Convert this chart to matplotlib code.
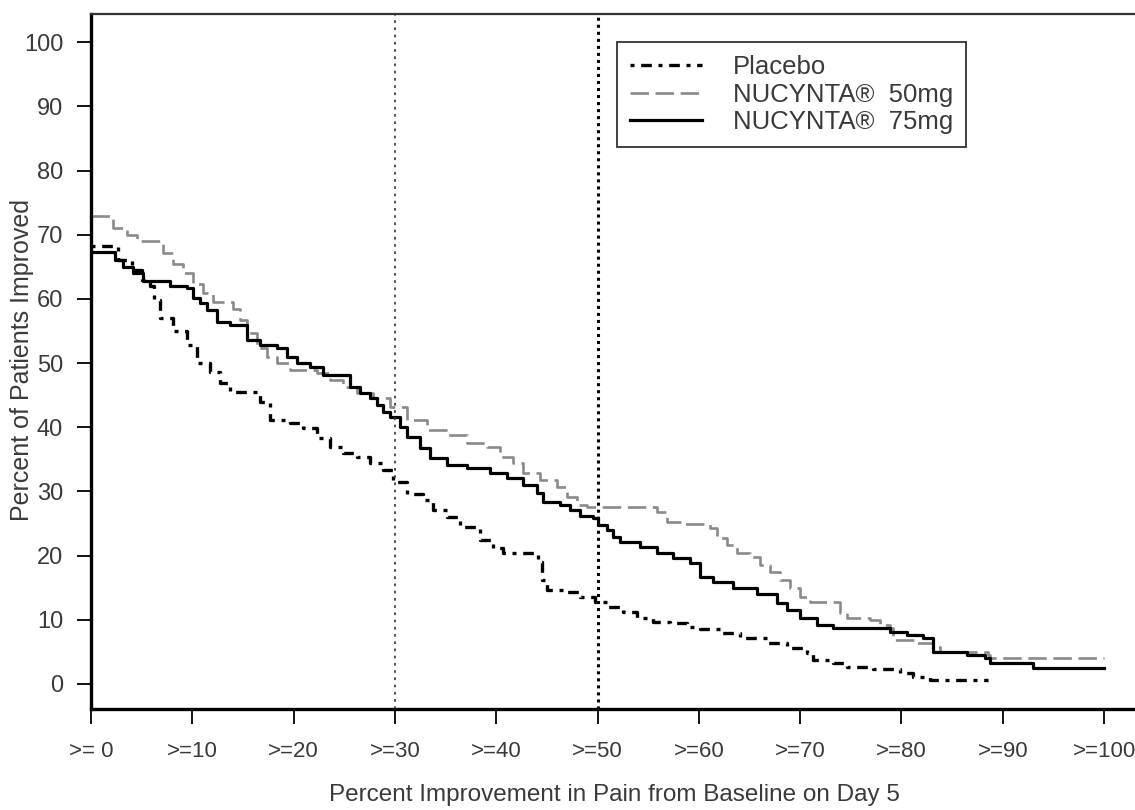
import matplotlib

matplotlib.use('Agg')
import matplotlib.pyplot as plt

plt.rcParams['font.family'] = ['Liberation Sans', 'DejaVu Sans']

# step curves: x = percent improvement, y = percent of patients
placebo_x = [0, 2.7, 4.0, 5.0, 5.8, 6.2, 6.8, 8.1, 9.5, 10.5,
             11.7, 12.7, 13.7, 16.7, 17.7, 19.6, 20.9, 22.3, 23.6, 24.9,
             26.3, 27.5, 28.8, 29.8, 31.2, 32.8, 33.8, 35.1, 36.4, 38.4,
             39.7, 40.7, 44.1, 44.5, 45.0, 47.0, 48.3, 49.8, 50.9, 52.5,
             53.9, 55.5, 57.2, 58.8, 60.1, 62.1, 64.1, 66.7, 68.7, 70.7,
             71.3, 73.2, 74.6, 77.2, 79.9, 81.1, 82.8, 88.5]
placebo_y = [68.3, 66, 64.5, 63, 62, 59.8, 57, 55, 52.8, 50,
             48.6, 46.9, 45.5, 43.9, 41.1, 40.6, 39.9, 38.3, 36.9, 36,
             35.4, 34.4, 33.3, 31.5, 29.6, 28.6, 27.1, 26, 24.5, 22.4,
             21.2, 20.4, 19, 16.2, 14.6, 14.3, 13.6, 12.8, 12, 11.2,
             10.3, 9.7, 9.5, 8.9, 8.5, 7.9, 7.1, 6.4, 5.6, 4.8,
             3.7, 3.2, 2.7, 2.4, 1.7, 1.1, 0.6, 0.6]

mg50_x = [0, 2.2, 3.6, 4.5, 7.1, 8.1, 9.1, 10.1, 11.1, 12.0,
          14.0, 14.7, 15.4, 16.4, 17.4, 18.4, 19.6, 22.3, 23.6, 24.9,
          26.3, 27.8, 29.5, 31.2, 33.2, 35.1, 37.1, 39.1, 40.4, 41.7,
          42.6, 44.3, 46.0, 47.0, 48.0, 49.0, 55.9, 56.9, 58.2, 61.1,
          61.8, 62.8, 63.8, 65.1, 66.0, 67.0, 68.0, 69.0, 70.0, 71.0,
          73.9, 74.6, 76.9, 77.9, 78.9, 79.2, 81.5, 83.1, 83.8, 88.5,
          88.7, 100]
mg50_y = [72.9, 71, 70, 69, 67.1, 65.5, 64, 62.4, 60.9, 59.5,
          58.4, 56.7, 54.7, 52.3, 51, 50, 48.9, 48.4, 47.4, 46.3,
          45.3, 44.5, 43.1, 41.1, 39.6, 38.8, 37.5, 36.9, 35.4, 34.4,
          32.9, 31.8, 30.7, 29.1, 27.9, 27.6, 26.8, 25.2, 25.0, 24.3,
          22.7, 21.7, 20.4, 19.8, 18.5, 17.4, 16.2, 14.9, 13.6, 12.8,
          11.1, 10.3, 10, 9.2, 8.7, 6.9, 6.4, 5.8, 5, 4.5,
          4.1, 4.1]

mg75_x = [0, 2.4, 3.2, 4.1, 5.1, 7.8, 9.5, 10.1, 10.8, 11.5,
          12.4, 13.7, 15.4, 16.7, 18.4, 19.3, 20.3, 21.6, 22.9, 25.6,
          26.6, 27.5, 28.2, 28.8, 29.5, 30.5, 31.2, 32.5, 33.5, 35.1,
          37.1, 39.4, 41.1, 42.6, 44.0, 44.6, 46.3, 47.3, 48.3, 49.6,
          50.0, 50.9, 51.5, 52.2, 54.2, 55.9, 57.5, 59.1, 60.1, 61.4,
          63.4, 65.7, 67.7, 68.7, 70.0, 71.7, 73.2, 78.9, 80.6, 82.1,
          83.1, 86.5, 88.3, 88.7, 93.0, 100]
mg75_y = [67.3, 66, 65, 64, 62.8, 62, 61.7, 60.1, 59.3, 58.3,
          56.4, 55.9, 53.6, 52.8, 52.3, 50.9, 50, 49.4, 48.1, 46.3,
          45.3, 44.5, 43.5, 42.4, 41.6, 40, 38.5, 36.8, 35.2, 34.1,
          33.6, 32.9, 32.1, 31, 29.8, 28.3, 27.9, 27.1, 26.2, 25.9,
          24.8, 24, 22.9, 22.1, 21.3, 20.4, 19.6, 18.8, 16.7, 15.9,
          14.9, 14, 12.6, 11.5, 10.3, 9.2, 8.7, 8.1, 7.6, 7.2,
          5, 4.5, 4, 3.3, 2.5, 2.5]

x_ticks = [0, 10, 20, 30, 40, 50, 60, 70, 80, 90, 100]
x_tick_labels = ['>= 0', '>=10', '>=20', '>=30', '>=40', '>=50',
                 '>=60', '>=70', '>=80', '>=90', '>=100']
y_ticks = [0, 10, 20, 30, 40, 50, 60, 70, 80, 90, 100]
ref_lines = [30, 50]

TEXT = '#3a3a3a'
W, H = 1135, 810
fig = plt.figure(figsize=(W / 100, H / 100), dpi=100)
ax = fig.add_axes([91 / W, 1 - 709 / H, (1142 - 91) / W, (709 - 14) / H])

ax.plot(placebo_x, placebo_y, drawstyle='steps-post', color='black',
        linewidth=2.4, linestyle=(0, (1.2, 2.0, 3.2, 2.0)), label='Placebo')
ax.plot(mg50_x, mg50_y, drawstyle='steps-post', color='#8a8a8a',
        linewidth=1.9, linestyle=(0, (7, 2.5)), label='NUCYNTA\u00ae  50mg')
ax.plot(mg75_x, mg75_y, drawstyle='steps-post', color='black',
        linewidth=2.3, label='NUCYNTA\u00ae  75mg')

ax.axvline(ref_lines[0], color='#444444', linewidth=1.3, linestyle=(0, (1.5, 2.5)))
ax.axvline(ref_lines[1], color='black', linewidth=2.2, linestyle=(0, (1, 1.3)))

ax.set_xlim(0, (1142 - 91) / 10.13)
ax.set_ylim(-3.9, 104.4)

ax.set_xticks(x_ticks)
ax.set_xticklabels(x_tick_labels)
ax.set_yticks(y_ticks)
ax.tick_params(axis='x', length=11, width=1.3, pad=12, labelsize=16, labelcolor=TEXT)
ax.tick_params(axis='y', length=10, width=1.3, pad=10, labelsize=17, labelcolor=TEXT)

for side in ['left', 'bottom']:
    ax.spines[side].set_linewidth(2.4)
for side in ['top', 'right']:
    ax.spines[side].set_linewidth(1.6)
    ax.spines[side].set_color('#333333')

ax.set_xlabel('Percent Improvement in Pain from Baseline on Day 5', fontsize=17.5, color=TEXT)
ax.xaxis.set_label_coords(0.4976, -0.108)
ax.set_ylabel('Percent of Patients Improved', fontsize=18, color=TEXT)
ax.yaxis.set_label_coords(-0.054, 0.502)

leg = ax.legend(loc='upper left', bbox_to_anchor=(0.5005, 0.96), fontsize=18.5,
                frameon=True, fancybox=False, edgecolor='black', handlelength=2.8,
                borderpad=0.5, labelspacing=0.15, handletextpad=1.2, borderaxespad=0)
leg.get_frame().set_linewidth(1.3)
for text in leg.get_texts():
    text.set_color(TEXT)

fig.savefig('out.png', dpi=100)
plt.close(fig)
